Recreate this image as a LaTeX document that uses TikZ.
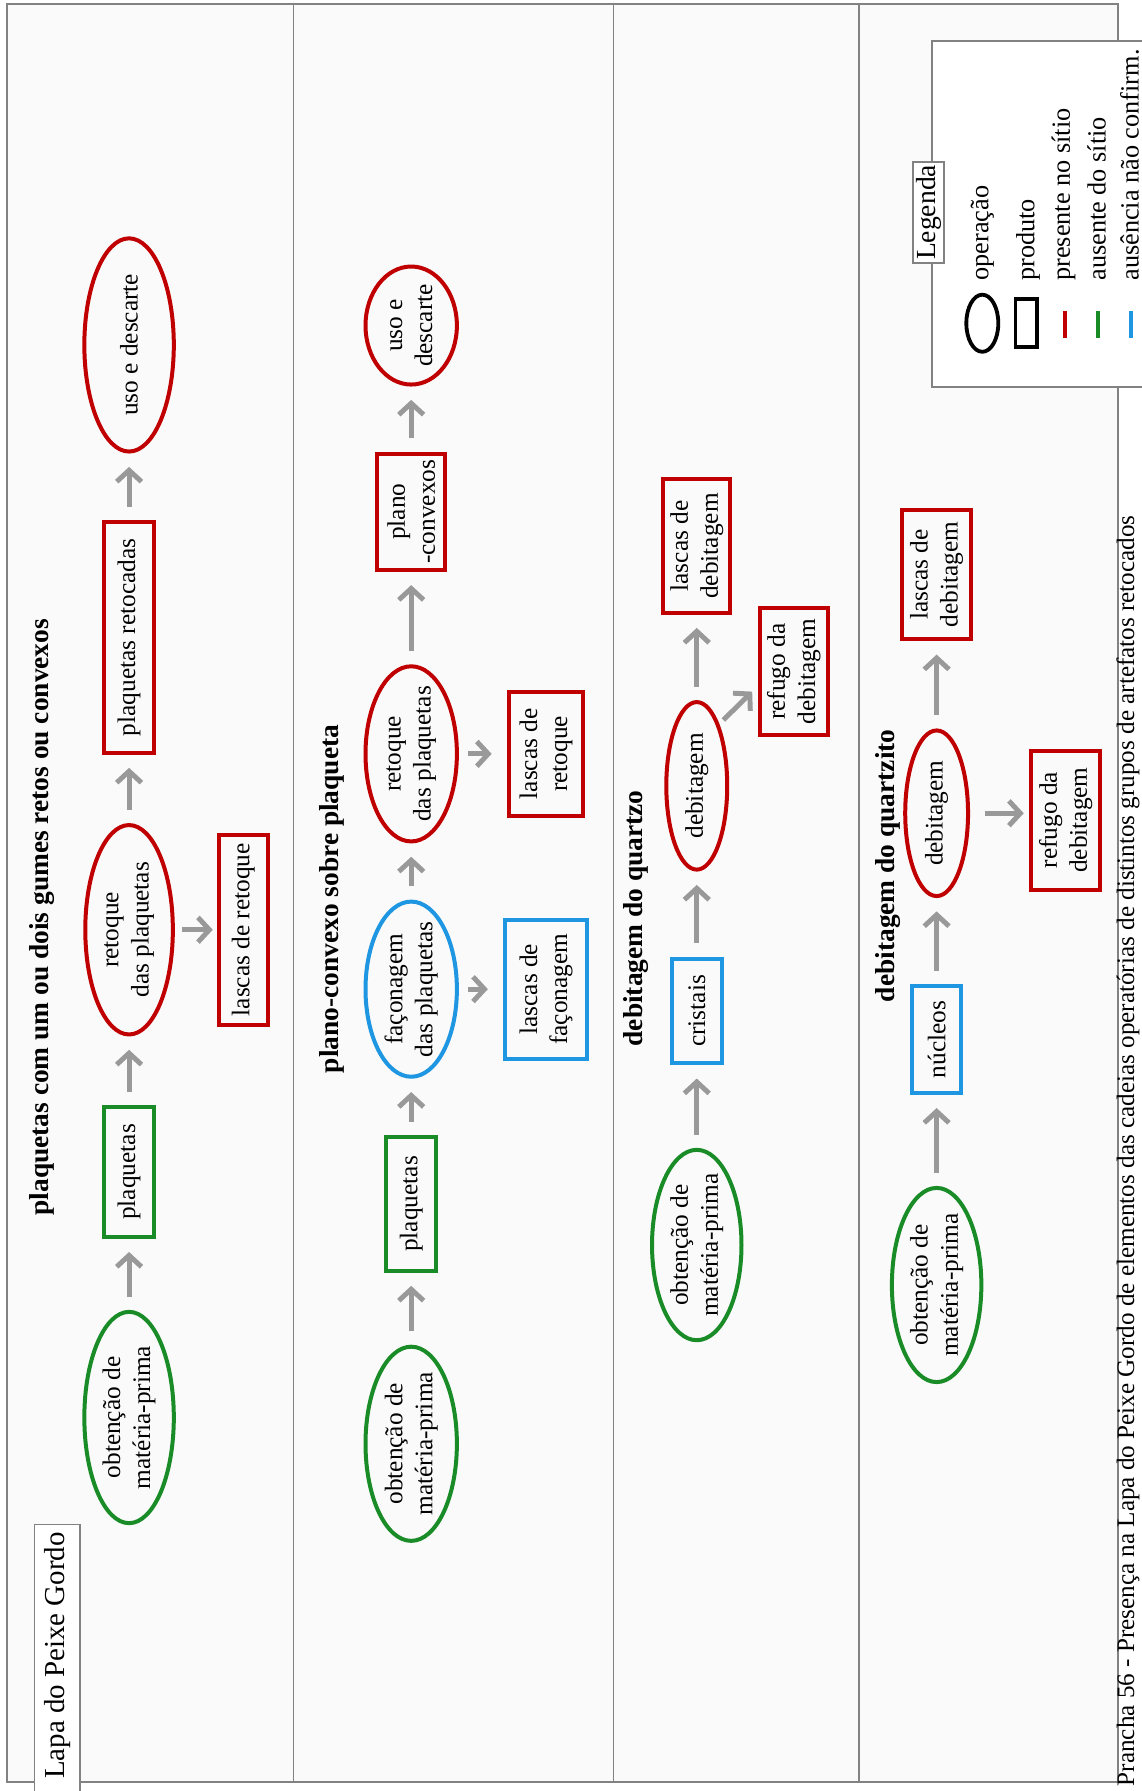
\documentclass[tikz,border=0pt]{standalone}
\usepackage{fontspec}
\setmainfont{Liberation Serif}
\usepackage{xcolor}
\usepackage{tikz}
\usetikzlibrary{arrows.meta,shapes.geometric}

\definecolor{presred}{RGB}{192,0,0}
\definecolor{ausgreen}{RGB}{25,140,40}
\definecolor{ncblue}{RGB}{30,150,225}
\definecolor{arrgray}{RGB}{153,153,153}
\definecolor{framegray}{RGB}{130,130,130}
\newcommand{\boxfont}{\fontsize{13.3}{15.8}\selectfont}
\newcommand{\paneltitlefont}{\fontsize{14.4}{17}\selectfont\bfseries}
\newcommand{\sitefont}{\fontsize{15.2}{18}\selectfont}
\newcommand{\legfont}{\fontsize{14.5}{17}\selectfont}
\newcommand{\legtxtfont}{\fontsize{13.8}{16}\selectfont}
\newcommand{\captfont}{\fontsize{13.2}{15.5}\selectfont}

\begin{document}
\begin{tikzpicture}[
  x=0.6pt, y=-0.6pt,
  oper/.style={draw, ellipse, line width=2.1pt, inner xsep=-4pt, inner ysep=0pt, align=center, rotate=90, font=\boxfont},
  prod/.style={draw, rectangle, line width=2.1pt, inner sep=0pt, align=center, rotate=90, font=\boxfont},
  pres/.style={draw=presred},
  ause/.style={draw=ausgreen},
  ncnf/.style={draw=ncblue},
  ptitle/.style={rotate=90, font=\paneltitlefont},
  arr/.style={arrgray, line width=2.6pt, -{Straight Barb[length=6pt, width=13pt]}, shorten <=7pt, shorten >=7pt},
  frameline/.style={framegray, line width=0.8pt},
  legtxt/.style={rotate=90, anchor=west, font=\legtxtfont, inner sep=0pt}
]
\useasboundingbox (0,0) rectangle (999,1568);
\fill[black!2] (6,3.5) rectangle (979,1560);
\draw[frameline] (6,3.5) rectangle (979,1560);
\foreach \xdiv in {257,537,752}
  \draw[frameline] (\xdiv,3.5) -- (\xdiv,1560);

% plaquetas com gumes retos ou convexos
\node[ptitle] (p1tit) at (37,803) {plaquetas com um ou dois gumes retos ou convexos};
\node[oper, pres, minimum width=112pt, minimum height=47pt] (p1use) at (113,302) {uso e descarte};
\node[prod, pres, minimum width=121pt, minimum height=26pt] (p1ret) at (113,558) {plaquetas retocadas};
\node[oper, pres, minimum width=110pt, minimum height=46pt] (p1rtq) at (113,814) {retoque\\das plaquetas};
\node[prod, pres, minimum width=100pt, minimum height=26pt] (p1lrt) at (213,814) {lascas de retoque};
\node[prod, ause, minimum width=68pt, minimum height=26pt] (p1plq) at (113,1026) {plaquetas};
\node[oper, ause, minimum width=111pt, minimum height=47pt] (p1obt) at (113,1241) {obtenção de\\matéria-prima};
\draw[arr] (p1obt) -- (p1plq);
\draw[arr] (p1plq) -- (p1rtq);
\draw[arr] (p1rtq) -- (p1ret);
\draw[arr] (p1ret) -- (p1use);
\draw[arr, shorten <=4pt, shorten >=2pt] (p1rtq) -- (p1lrt);

% plano-convexo
\node[ptitle] (p2tit) at (291,787) {plano-convexo sobre plaqueta};
\node[oper, pres, minimum width=62pt, minimum height=48pt] (p2use) at (360,285) {uso e\\descarte};
\node[prod, pres, minimum width=61pt, minimum height=36pt] (p2pcv) at (360,448) {plano\\-convexos};
\node[oper, pres, minimum width=92pt, minimum height=48pt] (p2rtq) at (360,660) {retoque\\das plaquetas};
\node[prod, pres, minimum width=65pt, minimum height=39pt] (p2lrt) at (478,660) {lascas de\\retoque};
\node[oper, ncnf, minimum width=92pt, minimum height=48pt] (p2fac) at (360,866) {façonagem\\das plaquetas};
\node[prod, ncnf, minimum width=73pt, minimum height=43pt] (p2lfc) at (478,866) {lascas de\\façonagem};
\node[prod, ause, minimum width=70pt, minimum height=26pt] (p2plq) at (360,1054) {plaquetas};
\node[oper, ause, minimum width=102pt, minimum height=48pt] (p2obt) at (360,1264) {obtenção de\\matéria-prima};
\draw[arr] (p2obt) -- (p2plq);
\draw[arr] (p2plq) -- (p2fac);
\draw[arr] (p2fac) -- (p2rtq);
\draw[arr] (p2rtq) -- (p2pcv);
\draw[arr] (p2pcv) -- (p2use);
\draw[arr, shorten <=5pt, shorten >=8pt] (p2rtq) -- (p2lrt);
\draw[arr, shorten <=5pt, shorten >=8pt] (p2fac) -- (p2lfc);

% quartzo
\node[ptitle] (p3tit) at (557,804) {debitagem do quartzo};
\node[prod, pres, minimum width=70pt, minimum height=35pt] (p3lde) at (610,478) {lascas de\\debitagem};
\node[prod, pres, minimum width=67pt, minimum height=36pt] (p3rfg) at (695,588) {refugo da\\debitagem};
\node[oper, pres, minimum width=88pt, minimum height=32pt] (p3deb) at (610,688) {debitagem};
\node[prod, ncnf, minimum width=55pt, minimum height=26pt] (p3cri) at (610,885) {cristais};
\node[oper, ause, minimum width=100pt, minimum height=47pt] (p3obt) at (610,1090) {obtenção de\\matéria-prima};
\draw[arr] (p3obt) -- (p3cri);
\draw[arr] (p3cri) -- (p3deb);
\draw[arr] (p3deb) -- (p3lde);
\draw[arr, shorten <=3pt, shorten >=4pt] (p3deb.-20) -- (p3rfg.112);

% quartzito
\node[ptitle] (p4tit) at (777,758) {debitagem do quartzito};
\node[prod, pres, minimum width=68pt, minimum height=36pt] (p4lde) at (820,503) {lascas de\\debitagem};
\node[oper, pres, minimum width=87pt, minimum height=33pt] (p4deb) at (820,712) {debitagem};
\node[prod, pres, minimum width=73pt, minimum height=36pt] (p4rfg) at (933,718) {refugo da\\debitagem};
\node[prod, ncnf, minimum width=56pt, minimum height=26pt] (p4nuc) at (820,910) {núcleos};
\node[oper, ause, minimum width=102pt, minimum height=47pt] (p4obt) at (820,1125) {obtenção de\\matéria-prima};
\draw[arr] (p4obt) -- (p4nuc);
\draw[arr] (p4nuc) -- (p4deb);
\draw[arr] (p4deb) -- (p4lde);
\draw[arr, shorten <=8pt, shorten >=3pt] (p4deb) -- (p4deb -| p4rfg.north);

% legenda
\draw[frameline, fill=white] (816,36) rectangle (1010,339);
\node[rotate=90, draw=framegray, line width=0.8pt, fill=white, inner sep=1.5pt, font=\legfont] (legtit) at (813,186) {Legenda};
\draw[line width=2pt] (860,283) ellipse [x radius=14, y radius=25];
\draw[line width=2pt] (889,262) rectangle (908,304);
\draw[presred, line width=2.2pt] (932.5,272) -- (932.5,296);
\draw[ausgreen, line width=2.2pt] (961,272) -- (961,296);
\draw[ncblue, line width=2.2pt] (990,272) -- (990,296);
\node[legtxt] (lgop) at (860,246) {operação};
\node[legtxt] (lgpr) at (900,246) {produto};
\node[legtxt] (lgps) at (931,246) {presente no sítio};
\node[legtxt] (lgau) at (960,246) {ausente do sítio};
\node[legtxt] (lgnc) at (989,246) {ausência não confirm.};

% sitio e legenda da prancha
\node[rotate=90, anchor=east, draw=framegray, line width=0.8pt, fill=white, inner xsep=4pt, inner ysep=5pt, text width=140pt, align=flush right, font=\sitefont] (site) at (50,1334) {Lapa do Peixe Gordo};
\node[rotate=90, anchor=base west, inner sep=0pt, font=\captfont] (capt) at (993,1564) {Prancha 56 - Presença na Lapa do Peixe Gordo de elementos das cadeias operatórias de distintos grupos de artefatos retocados};
\end{tikzpicture}
\end{document}
